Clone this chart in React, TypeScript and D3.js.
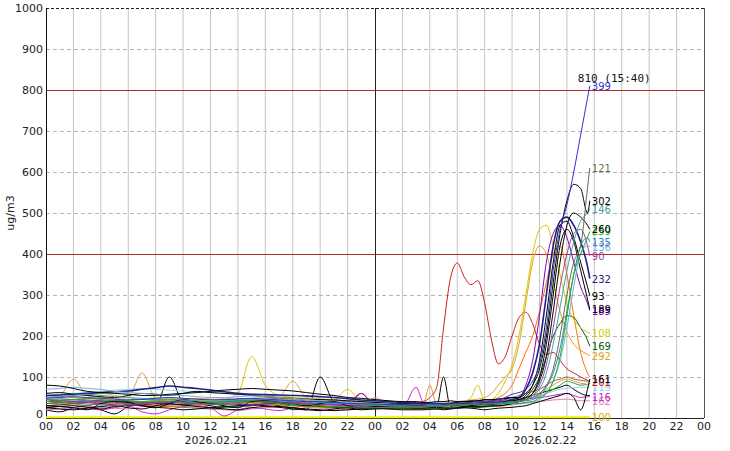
import React from "react";
import * as d3 from "d3";

// time axis (hours since 2026.02.21 00:00): hourly to 27, then half-hourly, last at 15:40 day 2
const timesEarly = [0,1,2,3,4,5,6,7,8,9,10,11,12,13,14,15,16,17,18,19,20,21,22,23,24,25,26,27];
const timesLate = [27.5,28,28.5,29,29.5,30,30.5,31,31.5,32,32.5,33,33.5,34,34.5,35,35.5,36,36.5,37,37.5,38,38.5,39,39.5,39.67];
const hourTicks = ["00","02","04","06","08","10","12","14","16","18","20","22","00","02","04","06","08","10","12","14","16","18","20","22","00"];
const dateLabels = ["2026.02.21", "2026.02.22"];
const yTicks = [0,100,200,300,400,500,600,700,800,900,1000];
const limitLines = [400, 800];
const peakLabel = "810 (15:40)";

// series: label, colour, values (early + late)
const s399 = [48,50,52,50,48,46,44,45,48,50,48,46,44,45,47,48,46,44,42,40,40,38,36,35,34,33,32,32,
  33,34,34,35,36,36,37,38,40,40,42,45,50,58,62,70,90,130,220,360,460,520,600,690,780,810];
const s121 = [35,38,36,34,32,30,32,35,38,40,38,36,34,33,35,38,40,38,35,33,30,28,27,26,25,25,26,27,
  27,28,28,30,30,32,33,34,35,35,36,37,38,40,40,45,50,60,80,120,200,300,380,420,560,610];
const s302 = [80,78,72,65,62,60,58,55,55,58,60,62,65,68,70,72,70,68,66,62,58,55,50,48,45,42,40,40,
  38,38,40,40,42,40,40,42,42,45,44,46,48,50,50,60,80,120,200,330,450,530,570,560,500,530];
const s146 = [50,52,55,58,55,52,50,48,46,45,44,42,40,42,44,46,45,44,42,40,38,36,35,33,32,30,30,29,
  29,30,30,31,32,32,33,33,34,35,35,36,38,40,40,45,55,70,110,180,270,360,430,480,500,510];
const s260 = [30,28,25,20,35,40,38,30,25,35,45,40,35,30,25,40,42,38,35,30,35,40,30,25,28,30,32,30,
  30,28,30,32,34,30,28,30,32,35,34,36,40,42,45,50,60,90,150,260,380,470,500,490,470,460];
const s259 = [40,42,45,48,45,40,38,40,42,40,38,36,35,38,40,42,40,35,30,32,35,38,35,32,30,30,28,28,
  28,28,28,30,30,30,30,31,32,32,33,34,35,35,35,38,40,50,60,90,150,250,350,400,440,455];
const s135 = [45,46,44,42,40,42,44,46,45,44,42,40,38,40,42,44,43,42,40,38,36,35,34,33,32,31,31,30,
  30,30,31,31,32,32,33,33,34,34,35,35,36,38,40,42,45,55,75,110,170,260,350,420,440,430];
const s136 = [70,72,75,72,70,65,62,60,58,56,55,52,50,50,52,54,52,50,48,45,42,40,38,36,35,34,33,32,
  32,32,32,32,32,31,31,32,32,33,33,34,35,36,36,38,40,45,60,90,140,220,320,400,420,418];
const s90 = [35,38,40,38,36,34,35,38,40,38,36,34,35,36,38,40,42,40,38,36,34,32,30,28,27,26,26,27,
  27,28,28,29,30,30,31,32,33,33,34,35,36,38,40,45,55,80,130,220,320,400,450,460,420,395];
const s232 = [55,56,58,60,62,64,66,70,74,78,75,72,68,64,60,58,57,56,55,54,52,50,47,44,42,40,38,36,
  36,35,35,34,34,34,35,35,36,36,37,38,40,45,50,70,110,180,300,420,480,490,470,430,370,340];
const s93 = [60,62,58,55,52,50,55,60,58,55,60,65,62,60,58,55,52,50,48,46,45,44,42,40,38,36,35,35,
  35,34,34,35,36,38,40,40,42,44,45,46,48,50,45,55,80,140,250,380,470,480,440,380,320,298];
const s189 = [25,22,20,24,28,30,25,22,30,35,32,28,25,22,20,25,28,26,22,20,18,22,25,20,22,24,25,24,
  24,25,26,25,24,25,26,28,27,28,30,30,32,35,40,45,60,100,180,300,420,460,430,360,290,265];
const s185 = [40,42,40,38,35,32,30,32,35,38,40,38,36,35,33,32,34,36,38,36,34,32,30,30,29,28,28,28,
  28,28,29,30,30,32,33,35,36,38,40,42,45,50,50,80,140,250,380,450,470,440,380,320,280,262];
const s108 = [50,52,55,60,60,55,50,45,50,48,46,44,42,45,60,150,80,55,50,48,46,45,70,40,38,36,34,33,
  33,34,34,35,35,36,40,50,80,40,45,60,90,130,200,300,400,460,470,420,350,280,240,220,210,207];
const s169 = [30,32,35,38,40,42,40,38,36,34,32,35,38,40,42,40,38,35,32,30,28,26,25,24,23,22,22,22,
  22,22,23,23,24,24,25,25,26,27,28,30,32,35,40,50,70,100,150,200,230,250,245,220,190,175];
const s292 = [45,47,50,48,46,44,42,40,42,44,46,48,46,44,42,40,42,44,46,44,42,40,38,36,35,34,33,33,
  33,34,35,36,38,40,42,44,46,50,60,80,100,120,180,280,380,420,400,330,260,210,180,165,155,152];
const s161 = [25,28,30,26,22,28,32,30,26,24,20,22,25,28,30,32,30,28,25,22,20,18,20,22,24,22,20,20,
  20,21,22,20,22,24,25,24,22,20,22,24,25,26,28,30,35,40,45,50,55,60,50,20,70,95];
const s201 = [40,42,45,44,42,40,38,36,38,40,42,44,45,46,44,42,40,38,36,34,33,32,31,30,30,32,35,38,
  40,50,75,220,340,378,345,325,335,280,190,132,150,200,245,258,230,180,155,160,140,120,110,100,92,88];
const sOrange = [30,32,35,38,40,36,34,32,30,28,30,32,34,36,38,36,34,32,30,28,26,25,24,24,23,23,24,25,
  25,26,27,28,30,30,32,34,36,38,42,50,60,80,120,160,200,260,330,400,420,350,250,160,110,100];
const s119 = [55,58,60,62,65,68,70,72,70,68,66,64,62,60,58,56,54,52,50,48,46,44,42,40,40,38,38,38,
  38,38,38,38,38,38,39,40,40,40,41,42,44,45,45,48,50,55,60,65,70,72,74,75,75,75];
const s116 = [30,28,25,22,20,25,30,15,10,20,28,30,25,5,20,25,22,18,25,30,35,45,40,60,30,28,26,75,
  40,35,33,32,30,30,32,34,35,36,38,40,42,45,44,46,48,50,52,55,58,60,55,50,52,52];
const s162 = [20,22,25,28,26,24,22,28,32,30,28,25,22,20,18,22,25,28,30,26,24,22,20,22,50,30,26,25,
  25,24,23,22,22,24,26,28,30,32,30,28,30,32,34,36,38,40,42,44,45,46,44,42,42,42];
const s100 = [2,2,2,2,2,2,2,2,2,2,2,2,2,2,2,2,2,2,2,2,2,2,2,2,2,2,2,2,
  2,2,2,2,2,2,2,2,2,2,2,2,2,2,2,2,2,2,2,2,2,2,2,2,2,2];
const sBlackX = [20,15,25,30,20,10,28,35,30,100,40,35,30,25,28,30,35,30,25,20,100,40,30,60,30,32,30,28,
  28,30,30,100,28,30,32,30,28,30,32,34,36,40,45,50,55,60,65,70,75,80,70,60,55,55];
const sGreenX = [45,40,35,30,38,42,40,35,30,28,26,24,22,25,28,30,35,38,20,25,30,28,26,25,24,23,22,22,
  22,23,22,24,25,24,26,28,30,32,34,36,38,40,42,45,50,55,60,70,80,90,85,80,82,85];
const sBrownX = [35,36,38,40,42,38,35,32,30,32,34,36,38,40,42,44,46,48,45,42,40,38,36,34,32,30,28,28,
  28,30,32,33,34,35,36,36,38,40,42,45,48,50,55,60,65,70,80,90,95,100,95,92,90,90];
const sOrangeX = [50,55,95,55,50,48,50,110,50,48,45,42,40,42,45,48,50,52,90,50,45,42,40,38,36,35,34,33,
  33,80,34,33,32,33,34,35,36,38,40,42,44,46,48,50,55,60,70,80,90,95,90,85,82,80];

const seriesLabels = ["","","","","100","162","116","119","","201","161","292","169","108","185","189","93","232","90","136","135","259","260","146","302","121","399"];
const seriesColors = ["#000000","#30a030","#a06040","#e0a040","#f0f000","#e080b0","#d020d0","#90d8ec","#ff7000","#d02020","#000000","#e0a020","#006000","#d8c800","#8000c0","#000000","#000000","#202080","#a040a0","#70b0e0","#3080c0","#20b020","#000000","#40a0a0","#000000","#607050","#3333cc"];
const seriesValues = [sBlackX,sGreenX,sBrownX,sOrangeX,s100,s162,s116,s119,sOrange,s201,s161,s292,s169,s108,s185,s189,s93,s232,s90,s136,s135,s259,s260,s146,s302,s121,s399];

const W = 730, H = 451;
const M = { left: 46, right: 704, top: 8, bottom: 418 };
const FONT = "DejaVu Sans, Verdana, sans-serif";

export default function App() {
  const times = [...timesEarly, ...timesLate];
  const x = d3.scaleLinear().domain([0, 48]).range([M.left, M.right]);
  const y = d3.scaleLinear().domain([0, 1000]).range([M.bottom, M.top]);
  const line = d3.line<number>()
    .x((_, i) => x(times[i]))
    .y((v) => y(v))
    .curve(d3.curveMonotoneX);
  const hours = d3.range(0, 49, 2);
  const lastT = times[times.length - 1];

  return (
    <svg width={W} height={H} style={{ position: "absolute", left: 0, top: 0, background: "#fff" }}
      fontFamily={FONT}>
      <rect x={0} y={0} width={W} height={H} fill="#fff" />
      {/* vertical grid */}
      {hours.filter((h) => h > 0 && h < 48 && h !== 24).map((h) => (
        <line key={"v" + h} x1={x(h)} x2={x(h)} y1={M.top} y2={M.bottom} stroke="#c4c4c4" strokeWidth={1} />
      ))}
      {/* horizontal grid */}
      {yTicks.filter((t) => t > 0 && t < 1000 && !limitLines.includes(t)).map((t) => (
        <line key={"h" + t} x1={M.left} x2={M.right} y1={y(t) + 0.5} y2={y(t) + 0.5} stroke="#b4b4b4" strokeDasharray="4,3" />
      ))}
      {limitLines.map((t) => (
        <line key={"r" + t} x1={M.left} x2={M.right} y1={y(t) + 0.5} y2={y(t) + 0.5} stroke="#b02828" strokeWidth={1} />
      ))}
      {/* borders */}
      <line x1={M.left} x2={M.right} y1={M.top + 0.5} y2={M.top + 0.5} stroke="#222" strokeDasharray="3,2" />
      <line x1={M.right + 0.5} x2={M.right + 0.5} y1={M.top} y2={M.bottom} stroke="#555" />
      <line x1={x(24) + 0.5} x2={x(24) + 0.5} y1={M.top} y2={M.bottom} stroke="#222" />
      <line x1={M.left} x2={M.right} y1={M.bottom + 0.5} y2={M.bottom + 0.5} stroke="#222" />
      <line x1={M.left + 0.5} x2={M.left + 0.5} y1={M.top} y2={M.bottom} stroke="#111" />

      {/* series */}
      {seriesValues.map((vals, i) => (
        <path key={"s" + i} d={line(vals) || ""} fill="none" stroke={seriesColors[i]}
          strokeWidth={seriesLabels[i] === "100" ? 2 : seriesLabels[i] === "232" ? 1.6 : 1} />
      ))}
      {/* end labels */}
      {seriesValues.map((vals, i) => seriesLabels[i] ? (
        <text key={"l" + i} x={x(lastT) + 2} y={y(vals[vals.length - 1]) + 4} fontSize={10}
          fill={seriesColors[i] === "#f0f000" ? "#d8b000" : seriesColors[i]}>{seriesLabels[i]}</text>
      ) : null)}
      <text x={x(lastT) - 12} y={y(810) - 4} fontSize={11} fill="#111" fontFamily="DejaVu Sans Mono, monospace">{peakLabel}</text>

      {/* y axis labels */}
      {yTicks.map((t) => (
        <text key={"yt" + t} x={M.left - 3} y={y(t) + 4 - (t === 0 ? 4 : 0)} fontSize={11} textAnchor="end" fill="#222">{t}</text>
      ))}
      <text transform={`translate(14,${y(500)}) rotate(-90)`} fontSize={11} textAnchor="middle" fill="#222">ug/m3</text>

      {/* x axis labels */}
      {hours.map((h, i) => (
        <text key={"xt" + h} x={x(h)} y={M.bottom + 12} fontSize={11} textAnchor="middle" fill="#222">{hourTicks[i]}</text>
      ))}
      {dateLabels.map((d, i) => (
        <text key={"d" + i} x={x(i * 24 + 12.4)} y={M.bottom + 26} fontSize={11} textAnchor="middle" fill="#222">{d}</text>
      ))}
    </svg>
  );
}
